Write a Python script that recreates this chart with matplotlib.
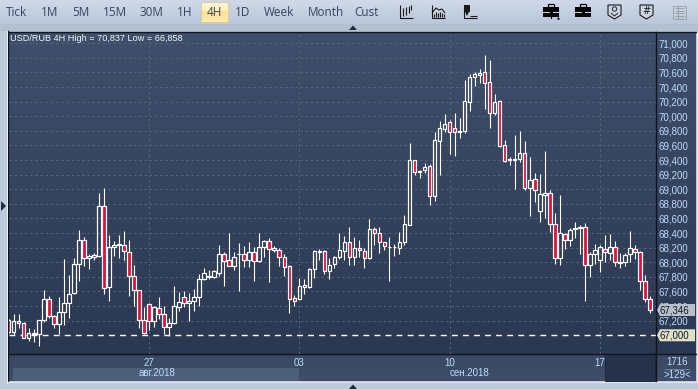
import numpy as np
import matplotlib
matplotlib.use("Agg")
import matplotlib.pyplot as plt
from matplotlib.patches import Rectangle, Polygon

W, H = 698, 389

opens = [67214, 67041, 67196, 67168, 66963, 67018, 67013, 67209, 67497, 67269,
         67155, 67319, 67437, 67574, 67975, 68304, 68057, 68066, 68085, 68769,
         67661, 68208, 68231, 68235, 68139, 67811, 67620, 67209, 67428, 67191,
         67373, 67291, 67113, 67168, 67391, 67528, 67436, 67473, 67518, 67765,
         67801, 67801, 67856, 68120, 68038, 67952, 68107, 68107, 68034, 68134,
         68020, 68216, 68285, 68171, 68175, 68066, 67947, 67505, 67500, 67664,
         67660, 67906, 68143, 68148, 67883, 67970, 68066, 68157, 68275, 68070,
         68193, 68161, 68057, 68453, 68399, 68275, 68207, 68212, 68193, 68275,
         68513, 69398, 69238, 69261, 69316, 68901, 69667, 69831, 69918, 69836,
         69790, 69804, 70200, 70533, 70561, 70602, 70465, 70050, 70210, 69603,
         69402, 69407, 69411, 69493, 69024, 69138, 68709, 68928, 68942, 68531,
         68057, 68394, 68299, 68454, 68467, 68481, 67957, 68112, 68025, 68180,
         68125, 68212, 67993, 68002, 68112, 68180, 68144, 67742, 67496]
closes = [67041, 67196, 67168, 66963, 67031, 67031, 67209, 67497, 67259, 67159,
          67319, 67442, 67565, 67975, 68304, 68057, 68085, 68094, 68769, 67647,
          68208, 68235, 68249, 68153, 67807, 67620, 67209, 67031, 67196, 67387,
          67291, 67113, 67168, 67401, 67459, 67436, 67473, 67518, 67765, 67847,
          67819, 67874, 68120, 68020, 67952, 68066, 68120, 68029, 68134, 68020,
          68216, 68285, 68184, 68189, 68066, 67929, 67500, 67464, 67669, 67683,
          67906, 68148, 68157, 67883, 67965, 68066, 68175, 68275, 68070, 68193,
          68166, 68057, 68453, 68399, 68275, 68221, 68216, 68216, 68275, 68522,
          69398, 69243, 69252, 69307, 68901, 69671, 69836, 69890, 69781, 69790,
          69795, 70205, 70533, 70574, 70588, 70460, 70050, 70191, 69594, 69393,
          69411, 69411, 69493, 69024, 69124, 68983, 68933, 68942, 68522, 68057,
          68399, 68299, 68440, 68463, 68481, 67961, 68112, 68166, 68212, 68139,
          68212, 68002, 68002, 68098, 68194, 68139, 67742, 67496, 67346]
highs = [67230, 67296, 67296, 67177, 67100, 67086, 67209, 67624, 67542, 67282,
         67528, 68044, 67829, 68062, 68445, 68345, 68117, 68126, 68947, 69020,
         68377, 68295, 68377, 68431, 68308, 67966, 67620, 67392, 67442, 67396,
         67528, 67405, 67237, 67679, 67591, 67601, 67573, 67632, 67838, 67915,
         67888, 67892, 68234, 68143, 68399, 68143, 68266, 68221, 68275, 68212,
         68399, 68303, 68335, 68221, 68198, 68107, 67956, 67550, 67783, 67774,
         67915, 68166, 68180, 68166, 68061, 68084, 68399, 68358, 68485, 68348,
         68307, 68193, 68595, 68485, 68481, 68284, 68348, 68248, 68408, 68649,
         69630, 69398, 69266, 69361, 69343, 69781, 69936, 70027, 69950, 70041,
         69982, 70497, 70579, 70602, 70647, 70837, 70770, 70305, 70223, 69676,
         69439, 69744, 69799, 69662, 69443, 69224, 69206, 69525, 68992, 68677,
         68923, 68399, 68472, 68554, 68504, 68540, 68144, 68253, 68235, 68367,
         68381, 68294, 68125, 68130, 68431, 68239, 68148, 67829, 67542]
lows = [67030, 67009, 67100, 66958, 66926, 66904, 66858, 67186, 67237, 67104,
        67022, 67136, 67241, 67565, 67747, 67953, 67911, 68035, 68071, 67569,
        67465, 68089, 68057, 68035, 67542, 67396, 67100, 67022, 67077, 67113,
        67227, 67022, 66986, 67159, 67332, 67382, 67199, 67336, 67400, 67756,
        67769, 67778, 67810, 67674, 67947, 67892, 67605, 67933, 67938, 67742,
        68006, 68066, 67733, 68134, 67952, 67810, 67309, 67400, 67500, 67564,
        67642, 67783, 68038, 67838, 67769, 67920, 68047, 68034, 67965, 67965,
        68066, 67924, 68043, 68239, 68130, 68171, 67747, 68089, 68116, 68230,
        68504, 69202, 69156, 69225, 68787, 68842, 69197, 69785, 69484, 69457,
        69703, 69772, 70068, 70415, 70456, 70100, 69840, 70023, 69580, 69375,
        69338, 69005, 69375, 68992, 68636, 68832, 68554, 68609, 68417, 67979,
        67957, 68176, 68226, 68335, 68116, 67464, 67793, 67979, 67861, 68002,
        68034, 67943, 67916, 67943, 67998, 68043, 67615, 67455, 67300]

price_ticks = list(range(67200, 71001, 200))
date_pos = [28, 58, 88, 118]
date_labels = ["27", "03", "10", "17"]
month_labels = ["авг.2018", "сен.2018"]
tabs = ["Tick", "1M", "5M", "15M", "30M", "1H", "4H", "1D", "Week", "Month", "Cust"]
tab_x = [17, 50, 81, 115, 151, 185, 214, 243, 279, 326, 366]
last_price = 67346
alert_price = 67000

TXT = "#bcdcfb"
SANS = "Liberation Sans"


def fmt(v):
    return f"{v:,}"


def vgrad(ax, x0, x1, y0, y1, c0, c1, z=0):
    g = np.linspace(0, 1, 64)[:, None, None]
    a = np.array(matplotlib.colors.to_rgb(c0))[None, None, :]
    b = np.array(matplotlib.colors.to_rgb(c1))[None, None, :]
    ax.imshow(a + (b - a) * g, extent=(x0, x1, y1, y0), aspect="auto", zorder=z)


fig = plt.figure(figsize=(W / 100, H / 100), dpi=100)
px = 0.72

# background + frame
bg = fig.add_axes([0, 0, 1, 1], zorder=0)
bg.set_xlim(0, W)
bg.set_ylim(H, 0)
bg.axis("off")
bg.set_facecolor("#bccada")
bg.add_patch(Rectangle((0, 0), W, H, fc="#bccada", ec="none", zorder=0))
vgrad(bg, 0, W, 0, 24, "#d0d9e8", "#b9c6d9", 1)
bg.add_patch(Rectangle((0, 24), W, 7, fc="#b3c0d2", ec="none", zorder=1))
vgrad(bg, 8, 696, 32, 354, "#3f4f6b", "#2b3852", 1)
vgrad(bg, 8, 696, 354, 381, "#3a4862", "#3f4e69", 1)
bg.add_patch(Rectangle((13, 368), 286, 12.5, fc="#4d5e79", ec="none", zorder=2))
bg.set_xlim(0, W)
bg.set_ylim(H, 0)
bg.plot([8, 696], [31.5, 31.5], color="#0d1420", lw=1.4 * px, zorder=3)
bg.plot([8, 696], [354.3, 354.3], color="#0d1420", lw=1.4 * px, zorder=3)
bg.plot([8.2, 8.2], [31, 381], color="#0d1420", lw=1.4 * px, zorder=3)
bg.plot([7, 7], [31, 383], color="#e8edf4", lw=1 * px, zorder=3)
bg.plot([7, 697], [382, 382], color="#dfe6ef", lw=1.2 * px, zorder=3)
bg.plot([696.5, 696.5], [31, 382], color="#e3e9f1", lw=1 * px, zorder=3)

# 4H button
vgrad(bg, 201, 228, 2, 11, "#fff8dc", "#ffeeb5", 4)
vgrad(bg, 201, 228, 11, 22, "#ffe08f", "#ffeab0", 4)
bg.set_xlim(0, W)
bg.set_ylim(H, 0)
bg.add_patch(Rectangle((200.5, 1.5), 28, 21, fc="none", ec="#d9ccA0", lw=1 * px, zorder=5))
for t, x in zip(tabs, tab_x):
    bg.text(x, 12.5, t, ha="center", va="center", fontsize=8.5, family="Open Sans",
            color="#33465f", zorder=6)

# chart
ax = fig.add_axes([8.5 / W, 1 - 354 / H, 647 / W, 322 / H], zorder=1)
ax.patch.set_alpha(0)
ax.set_xlim(-0.04, 129.1)
ax.set_ylim(alert_price - (354 - 335.3) * 13.68, 71000 + (43.2 - 32) * 13.68)
for s in ax.spines.values():
    s.set_visible(False)
ax.spines["right"].set_visible(True)
ax.spines["right"].set_color("#0d1420")
ax.spines["right"].set_linewidth(1.4 * px)

x = np.arange(len(opens))
o = np.array(opens)
c = np.array(closes)
hi = np.array(highs)
lo = np.array(lows)
top = np.maximum(o, c)
bot = np.minimum(o, c)
up = c >= o

ax.yaxis.tick_right()
ax.set_yticks(price_ticks, [fmt(v) for v in price_ticks])
ax.set_xticks(date_pos, date_labels)
ax.tick_params(axis="both", length=0, colors=TXT, labelsize=7)
ax.tick_params(axis="y", pad=2)
ax.tick_params(axis="x", pad=3)
for lab in ax.get_xticklabels() + ax.get_yticklabels():
    lab.set_family(SANS)
ax.grid(True, color="#56657f", lw=1 * px, dashes=(2.2, 3))
ax.set_axisbelow(True)

ax.axhline(alert_price, color="white", lw=1.4 * px, dashes=(4.2, 3.7), zorder=2)
ax.vlines(x, top, hi, color="white", lw=1.1 * px, zorder=3)
ax.vlines(x, lo, bot, color="white", lw=1.1 * px, zorder=3)
ax.bar(x[up], (top - bot)[up], bottom=bot[up], width=0.7, fc="none", ec="white", lw=1.2 * px, zorder=4)
ax.bar(x[~up], (top - bot)[~up], bottom=bot[~up], width=0.7, fc="#e3103c", ec="white", lw=1.2 * px, zorder=4)
ax.text(1.5 / 647, 1 - 6.5 / 322, f"USD/RUB 4H High = {fmt(max(highs))} Low = {fmt(min(lows))}",
        transform=ax.transAxes, ha="left", va="center", fontsize=6.6, family=SANS, color="#f2f6fb", zorder=6)

# things on top of the chart
ov = fig.add_axes([0, 0, 1, 1], zorder=2)
ov.set_xlim(0, W)
ov.set_ylim(H, 0)
ov.axis("off")
ov.patch.set_alpha(0)
ov.add_patch(Rectangle((605, 355), 50, 25.5, fc="#26324a", ec="#1f2a3e", lw=1 * px))
ov.plot([655.5, 655.5], [354, 381], color="#0d1420", lw=1.4 * px)
ov.text(157, 372.5, month_labels[0], ha="center", va="center", fontsize=7, family=SANS, color=TXT)
ov.text(470, 372.5, month_labels[1], ha="center", va="center", fontsize=7, family=SANS, color=TXT)
ov.text(677, 362, "1716", ha="center", va="center", fontsize=7, family=SANS, color=TXT)
ov.plot([665, 689], [368.5, 368.5], color="#6f7f99", lw=1 * px)
ov.text(677, 374.5, f">{len(opens)}<", ha="center", va="center", fontsize=7, family=SANS, color=TXT)


def price_box(y, label, color):
    ov.add_patch(Polygon([(657, y), (660, y - 6), (695, y - 6), (695, y + 6), (660, y + 6)],
                         fc=color, ec="none", zorder=5))
    ov.text(660, y + 0.3, label, ha="left", va="center", fontsize=7, family=SANS, color="#151b26", zorder=6)


price_box(310, fmt(last_price), "#b9bfc9")
price_box(335.3, fmt(alert_price), "#dfe1c6")

# small arrows
ov.add_patch(Polygon([(349, 30), (353, 25.5), (357, 30)], fc="#1f2a3e", ec="none"))
ov.add_patch(Polygon([(349, 389), (353, 384.5), (357, 389)], fc="#1f2a3e", ec="none"))
ov.add_patch(Polygon([(1, 201), (6, 206), (1, 211)], fc="#1f2a3e", ec="none"))


# toolbar icons
def line(xs, ys, col="#1a1a1a", lw=1.1):
    ov.plot(xs, ys, color=col, lw=lw * px, solid_capstyle="butt")


line([399.5, 399.5, 413], [5, 18, 18])
for xx, a, b in [(403, 8, 16), (406, 7, 15), (409, 6, 13), (411, 5, 10)]:
    line([xx, xx], [a, b])
line([431.5, 431.5, 445], [5, 18, 18])
line([432, 436, 439, 442, 445], [13, 8, 10, 9, 13])
for xx, a in [(434, 14), (436, 12), (438, 13), (440, 12), (442, 13), (444, 14)]:
    line([xx, xx], [a, 17])
line([463.5, 463.5, 477], [5, 18, 18])
ov.add_patch(Rectangle((464, 5), 6, 7, fc="#1a1a1a", ec="none"))
ov.add_patch(Polygon([(465, 12), (469, 12), (467, 16)], fc="#1a1a1a", ec="none"))
line([470, 477], [16, 16])


def briefcase(x0, plus=False):
    ov.add_patch(Rectangle((x0, 7), 16, 10, fc="#0a0a0a", ec="none"))
    ov.add_patch(Rectangle((x0 + 5, 4), 6, 3, fc="none", ec="#0a0a0a", lw=1.2 * px))
    ov.add_patch(Rectangle((x0, 11.5), 16, 1, fc="#c3cede", ec="none"))
    ov.add_patch(Rectangle((x0 + 6.5, 10.5), 3, 3, fc="#0a0a0a", ec="none"))
    if plus:
        ov.text(x0 + 8, 16.5, "+", ha="center", va="center", fontsize=6, color="#0a0a0a", weight="bold")
        ov.text(x0 + 14.5, 17, "↓", ha="center", va="center", fontsize=6, color="#0a0a0a")


briefcase(543, True)
briefcase(575)


def shield(x0):
    ov.add_patch(Polygon([(x0, 5), (x0 + 13, 5), (x0 + 13, 15), (x0 + 6.5, 19), (x0, 15)],
                         fc="#cbd4e2", ec="#1a1a1a", lw=1.1 * px))


shield(608)
ov.add_patch(plt.Circle((614.5, 9), 2.2, fc="none", ec="#1a1a1a", lw=0.9 * px))
line([611, 614.5, 618], [13, 16, 13], lw=0.9)
shield(640)
ov.text(646.5, 11, "#", ha="center", va="center", fontsize=7, color="#1a1a1a", family="DejaVu Sans")
ov.add_patch(Rectangle((672.5, 5.5), 13, 13, fc="none", ec="#9ba3ad", lw=1 * px))
for yy in [8, 10.5, 13, 15.5]:
    line([675, 684], [yy, yy], "#9ba3ad", 1)
line([677.5, 677.5], [5.5, 18.5], "#9ba3ad", 1)

fig.savefig("out.png", dpi=100)
